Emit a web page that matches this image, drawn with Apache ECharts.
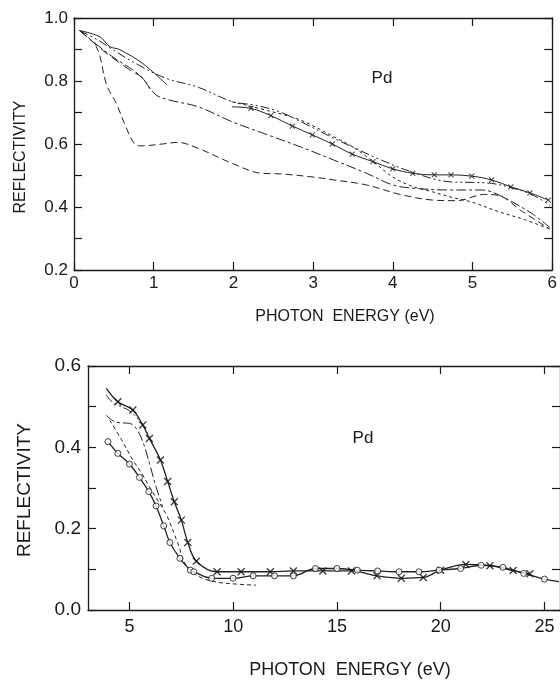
<!DOCTYPE html>
<html><head><meta charset="utf-8">
<script src="https://cdn.jsdelivr.net/npm/echarts@6/dist/echarts.min.js"></script>
<style>html,body{margin:0;padding:0;background:#fff}#c{width:560px;height:683px}</style>
</head><body><div id="c"></div>
<script>
// ---------- TOP PANEL (0-6 eV) ----------
const topXLabels = [0, 1, 2, 3, 4, 5, 6];
const topYLabels = [0.2, 0.4, 0.6, 0.8, 1.0];

// solid, short (0-1.2 eV)
const tSolidX = [0.07, 0.32, 0.45, 0.57, 0.86, 1.17];
const tSolidY = [0.96, 0.941, 0.909, 0.90, 0.856, 0.787];
// long dash, short (0-0.95 eV)
const tLongX = [0.07, 0.4, 0.7, 0.86, 0.95];
const tLongY = [0.96, 0.89, 0.835, 0.81, 0.775];
// dash-dot-dot
const tDddX = [0.07, 0.3, 0.5, 0.8, 1.15, 1.56, 1.98, 2.3, 2.6, 2.9, 3.26, 3.5, 3.8, 4.25, 4.71, 5.0, 5.24, 5.5, 5.74, 5.97];
const tDddY = [0.96, 0.93, 0.897, 0.852, 0.809, 0.78, 0.735, 0.722, 0.70, 0.664, 0.618, 0.59, 0.555, 0.51, 0.48, 0.478, 0.475, 0.46, 0.44, 0.405];
// dash-dot
const tDdX = [0.07, 0.45, 0.82, 1.03, 1.19, 1.56, 1.98, 2.43, 2.84, 3.26, 3.67, 4.0, 4.29, 4.71, 5.12, 5.33, 5.74, 5.97];
const tDdY = [0.96, 0.883, 0.819, 0.756, 0.74, 0.718, 0.671, 0.629, 0.591, 0.549, 0.507, 0.47, 0.459, 0.454, 0.454, 0.438, 0.38, 0.335];
// dashed (lowest)
const tDashX = [0.07, 0.28, 0.41, 0.53, 0.65, 0.76, 0.84, 1.11, 1.3, 1.56, 1.98, 2.35, 2.6, 3.0, 3.26, 3.67, 4.09, 4.5, 4.8, 5.15, 5.35, 5.6, 5.97];
const tDashY = [0.96, 0.909, 0.787, 0.729, 0.655, 0.60, 0.594, 0.60, 0.605, 0.586, 0.539, 0.507, 0.505, 0.495, 0.486, 0.47, 0.44, 0.422, 0.42, 0.44, 0.435, 0.39, 0.33];
// fine dotted (2-6 eV)
const tDotX = [1.98, 2.43, 2.84, 3.26, 3.5, 3.75, 4.0, 4.25, 4.5, 4.75, 5.0, 5.33, 5.65, 5.97];
const tDotY = [0.734, 0.706, 0.676, 0.623, 0.59, 0.545, 0.495, 0.465, 0.448, 0.43, 0.415, 0.385, 0.36, 0.33];
// solid with x markers (2-6 eV)
const tCrossX = [2.22, 2.47, 2.74, 2.99, 3.24, 3.49, 3.75, 4.0, 4.25, 4.52, 4.73, 4.99, 5.24, 5.48, 5.72, 5.95];
const tCrossY = [0.713, 0.69, 0.657, 0.629, 0.60, 0.568, 0.544, 0.521, 0.507, 0.502, 0.502, 0.498, 0.486, 0.464, 0.445, 0.422];
const tCrossStart = [1.98, 0.718];

// ---------- BOTTOM PANEL (3-26 eV) ----------
const botXLabels = [5, 10, 15, 20, 25];
const botYLabels = [0.0, 0.2, 0.4, 0.6];

// solid with x markers
const bCrossX = [4.44, 5.16, 5.64, 5.96, 6.49, 6.84, 7.16, 7.5, 7.81, 8.22, 9.22, 10.38, 11.79, 12.9, 14.32, 15.7, 16.93, 18.1, 19.16, 20.0, 21.21, 22.37, 23.49, 24.3];
const bCrossY = [0.512, 0.492, 0.455, 0.422, 0.369, 0.316, 0.266, 0.221, 0.166, 0.12, 0.094, 0.094, 0.094, 0.096, 0.096, 0.096, 0.084, 0.078, 0.08, 0.098, 0.112, 0.109, 0.097, 0.089];
const bCrossStart = [3.88, 0.545];
// solid with open circles
const bCircX = [3.96, 4.44, 5.0, 5.48, 5.93, 6.28, 6.65, 6.95, 7.43, 7.93, 8.1, 8.96, 9.99, 10.96, 11.99, 12.9, 13.96, 15.0, 15.98, 16.96, 17.99, 18.95, 19.92, 20.96, 21.95, 23.0, 24.0, 25.0];
const bCircY = [0.414, 0.385, 0.359, 0.326, 0.291, 0.256, 0.207, 0.166, 0.127, 0.098, 0.094, 0.078, 0.078, 0.084, 0.084, 0.084, 0.102, 0.102, 0.098, 0.096, 0.094, 0.094, 0.098, 0.102, 0.11, 0.105, 0.09, 0.076];
const bCircEnd = [25.7, 0.07];
// dash-dot-dot
const bDddX = [3.88, 4.2, 4.6, 5.0, 5.4, 5.7, 6.0];
const bDddY = [0.529, 0.51, 0.50, 0.49, 0.47, 0.45, 0.42];
// dash-dot
const bDdX = [3.88, 4.28, 4.7, 5.0, 5.32, 5.64, 5.96, 6.28, 6.6];
const bDdY = [0.479, 0.463, 0.46, 0.459, 0.447, 0.414, 0.361, 0.303, 0.254];
// fine dashed
const bDotX = [4.04, 4.6, 5.16, 5.6, 5.96, 6.3, 6.6, 6.82, 7.33, 7.76, 8.36, 9.05, 10.07, 11.1];
const bDotY = [0.467, 0.42, 0.369, 0.335, 0.303, 0.275, 0.25, 0.23, 0.164, 0.107, 0.082, 0.07, 0.064, 0.061];

const zip = (xs, ys) => xs.map((x, i) => [x, ys[i]]);
const INK = '#1a1a1a';
const FONT = 'Liberation Sans';
const crossPath = 'path://M0,0L10,10M10,0L0,10';

const axLine = { show: true, onZero: false, lineStyle: { color: INK, width: 1.3 } };
const tick = (len) => ({ show: true, inside: true, length: len, lineStyle: { color: INK, width: 1.2 } });
const noLabel = { show: false };
const noSplit = { show: false };

function lineSeries(xi, yi, data, dash, width, extra) {
  return Object.assign({
    type: 'line', xAxisIndex: xi, yAxisIndex: yi, data: data,
    smooth: 0.35, symbol: 'none', silent: true, z: 3,
    lineStyle: { color: '#222', width: width, type: dash }
  }, extra || {});
}

const DDD = [9, 3, 2, 3, 2, 3];
const DD = [10, 3, 3, 3];
const DASH = [7, 4];
const DOT = [3, 3];

const option = {
  animation: false,
  backgroundColor: '#fff',
  grid: [
    { left: 74, top: 18, width: 483, height: 252 },
    { left: 88, top: 366, width: 474, height: 244 }
  ],
  xAxis: [
    { gridIndex: 0, type: 'value', min: 0, max: 6, interval: 1, position: 'bottom',
      axisLine: axLine, axisTick: tick(8), splitLine: noSplit,
      axisLabel: { customValues: topXLabels, margin: 5, color: INK, fontFamily: FONT, fontSize: 17 } },
    { gridIndex: 0, type: 'value', min: 0, max: 6, interval: 1, position: 'top',
      axisLine: axLine, axisTick: tick(8), splitLine: noSplit, axisLabel: noLabel },
    { gridIndex: 1, type: 'value', min: 3, max: 25.75, interval: 1, position: 'bottom',
      axisLine: axLine, axisTick: Object.assign(tick(8), { customValues: botXLabels }), splitLine: noSplit,
      axisLabel: { customValues: botXLabels, margin: 8, color: INK, fontFamily: FONT, fontSize: 18 } },
    { gridIndex: 1, type: 'value', min: 3, max: 25.75, interval: 1, position: 'top',
      axisLine: axLine, axisTick: Object.assign(tick(8), { customValues: botXLabels }), splitLine: noSplit, axisLabel: noLabel }
  ],
  yAxis: [
    { gridIndex: 0, type: 'value', min: 0.2, max: 1.0, interval: 0.1, position: 'left',
      axisLine: axLine, axisTick: tick(8), splitLine: noSplit,
      axisLabel: { customValues: topYLabels, margin: 6, color: INK, fontFamily: FONT, fontSize: 17,
        formatter: v => v.toFixed(1) } },
    { gridIndex: 0, type: 'value', min: 0.2, max: 1.0, interval: 0.1, position: 'right',
      axisLine: axLine, axisTick: tick(8), splitLine: noSplit, axisLabel: noLabel },
    { gridIndex: 1, type: 'value', min: 0, max: 0.6, interval: 0.1, position: 'left',
      axisLine: axLine, axisTick: tick(8), splitLine: noSplit,
      axisLabel: { customValues: botYLabels, margin: 7, color: INK, fontFamily: FONT, fontSize: 19,
        formatter: v => v.toFixed(1) } },
    { gridIndex: 1, type: 'value', min: 0, max: 0.6, interval: 0.1, position: 'right',
      axisLine: axLine, axisTick: tick(8), splitLine: noSplit, axisLabel: noLabel }
  ],
  graphic: [
    { type: 'text', x: 21, y: 157, rotation: Math.PI / 2,
      style: { text: 'REFLECTIVITY', fill: INK, fontFamily: FONT, fontSize: 16, align: 'center', verticalAlign: 'middle' } },
    { type: 'text', x: 345, y: 317,
      style: { text: 'PHOTON  ENERGY (eV)', fill: INK, fontFamily: FONT, fontSize: 16, align: 'center', verticalAlign: 'middle' } },
    { type: 'text', x: 382, y: 78,
      style: { text: 'Pd', fill: INK, fontFamily: FONT, fontSize: 17, align: 'center', verticalAlign: 'middle' } },
    { type: 'text', x: 25, y: 490, rotation: Math.PI / 2,
      style: { text: 'REFLECTIVITY', fill: INK, fontFamily: FONT, fontSize: 19, align: 'center', verticalAlign: 'middle' } },
    { type: 'text', x: 350, y: 670,
      style: { text: 'PHOTON  ENERGY (eV)', fill: INK, fontFamily: FONT, fontSize: 18, align: 'center', verticalAlign: 'middle' } },
    { type: 'text', x: 363, y: 438,
      style: { text: 'Pd', fill: INK, fontFamily: FONT, fontSize: 17, align: 'center', verticalAlign: 'middle' } }
  ],
  series: [
    // top panel
    lineSeries(0, 0, zip(tSolidX, tSolidY), 'solid', 1),
    lineSeries(0, 0, zip(tLongX, tLongY), [9, 5], 1),
    lineSeries(0, 0, zip(tDddX, tDddY), DDD, 1),
    lineSeries(0, 0, zip(tDdX, tDdY), DD, 1),
    lineSeries(0, 0, zip(tDashX, tDashY), DASH, 1),
    lineSeries(0, 0, zip(tDotX, tDotY), DOT, 1),
    lineSeries(0, 0, [tCrossStart].concat(zip(tCrossX, tCrossY)), 'solid', 1),
    { type: 'scatter', xAxisIndex: 0, yAxisIndex: 0, data: zip(tCrossX, tCrossY), silent: true, z: 4,
      symbol: crossPath, symbolSize: 5,
      itemStyle: { color: 'none', borderColor: '#222', borderWidth: 1.1 } },
    // bottom panel
    lineSeries(2, 2, zip(bDddX, bDddY), DDD, 1),
    lineSeries(2, 2, zip(bDdX, bDdY), DD, 1),
    lineSeries(2, 2, zip(bDotX, bDotY), [4, 3], 1),
    lineSeries(2, 2, [bCrossStart].concat(zip(bCrossX, bCrossY)), 'solid', 1.3),
    lineSeries(2, 2, zip(bCircX, bCircY).concat([bCircEnd]), 'solid', 1.3),
    { type: 'scatter', xAxisIndex: 2, yAxisIndex: 2, data: zip(bCrossX, bCrossY), silent: true, z: 5,
      symbol: crossPath, symbolSize: 7,
      itemStyle: { color: 'none', borderColor: '#111', borderWidth: 1.4 } },
    { type: 'scatter', xAxisIndex: 2, yAxisIndex: 2, data: zip(bCircX, bCircY), silent: true, z: 5,
      symbol: 'circle', symbolSize: 6,
      itemStyle: { color: '#fff', borderColor: '#111', borderWidth: 1 } }
  ]
};

const chart = echarts.init(document.getElementById('c'), null, { renderer: 'canvas' });
chart.setOption(option);
</script></body></html>
